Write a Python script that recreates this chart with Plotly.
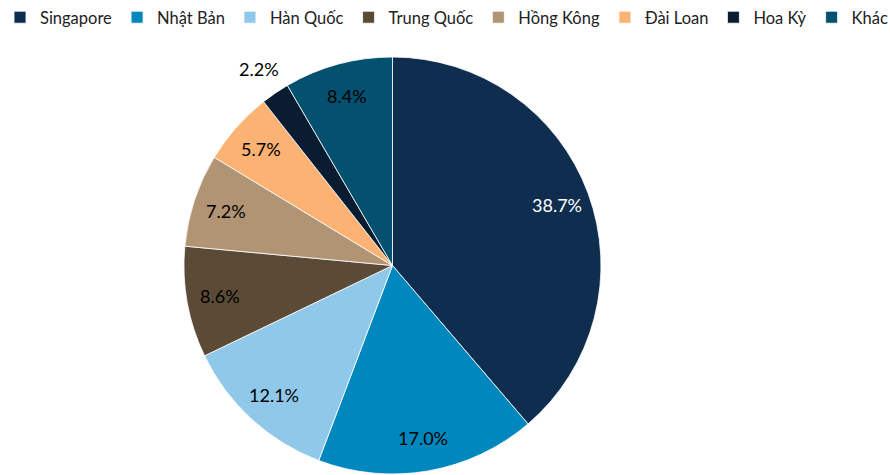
import math
import plotly.graph_objects as go

labels = ["Singapore", "Nhật Bản", "Hàn Quốc", "Trung Quốc", "Hồng Kông", "Đài Loan", "Hoa Kỳ", "Khác"]
values = [38.7, 17.0, 12.1, 8.6, 7.2, 5.7, 2.2, 8.4]
colors = ["#0E2D4F", "#0087BD", "#8FC8E8", "#5B4A36", "#B09474", "#FBB273", "#0A1C30", "#03506F"]
text_colors = ["white", "black", "black", "black", "black", "black", "black", "black"]
outside = [False, False, False, False, False, False, True, False]

W, H = 890, 475
MT, MB = 57, 1
dom_x = [0.2067, 0.6753]

fig = go.Figure(go.Pie(
    labels=labels, values=values, sort=False, direction="clockwise", rotation=0,
    marker=dict(colors=colors, line=dict(color="white", width=0.8)),
    textinfo="none", hoverinfo="label+percent",
    domain=dict(x=dom_x, y=[0, 1]),
))

# label placement derived from the slice angles
plot_h = H - MT - MB
cx = (dom_x[0] + dom_x[1]) / 2 * W
cy = MT + plot_h / 2
r = min((dom_x[1] - dom_x[0]) * W, plot_h) / 2
total = sum(values)
cum = 0.0
for lab, v, tc, out in zip(labels, values, text_colors, outside):
    mid = (cum + v / 2) / total * 2 * math.pi
    cum += v
    d = r * (1.14 if out else 0.84)
    px = cx + d * math.sin(mid)
    py = cy - d * math.cos(mid)
    fig.add_annotation(x=px / W, y=1 - (py - MT) / plot_h, xref="paper", yref="paper",
                       text=f"{v:.1f}%", showarrow=False,
                       font=dict(family="Lato", size=18, color=tc),
                       xanchor="center", yanchor="middle")

fig.update_layout(
    width=W, height=H, margin=dict(l=0, r=0, t=MT, b=MB),
    paper_bgcolor="white", plot_bgcolor="white",
    font=dict(family="Lato", size=16, color="#222"),
    legend=dict(orientation="h", x=0.005, y=1.0, yanchor="top", yref="container",
                font=dict(size=16.5), traceorder="normal"),
    showlegend=True,
)
fig.write_html("out.html")
